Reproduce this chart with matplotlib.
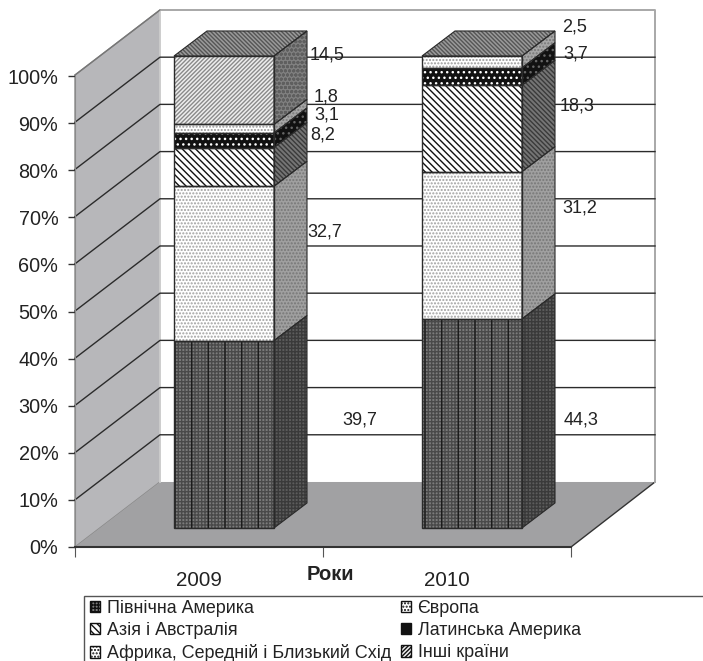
"""Stacked 3D-look bars (Excel style): regional shares 2009 / 2010."""
import matplotlib
matplotlib.use("Agg")
import matplotlib.pyplot as plt
from matplotlib.patches import Patch, Polygon, Rectangle

YEARS = ["2009", "2010"]
SERIES = ["Північна Америка", "Європа", "Азія і Австралія",
          "Латинська Америка", "Африка, Середній і Близький Схід", "Інші країни"]
VALUES_2009 = [39.7, 32.7, 8.2, 3.1, 1.8, 14.5]
VALUES_2010 = [44.3, 31.2, 18.3, 3.7, 2.5, 0.0]
LABELS_2009 = ["39,7", "32,7", "8,2", "3,1", "1,8", "14,5"]
LABELS_2010 = ["44,3", "31,2", "18,3", "3,7", "2,5", ""]
PERCENT_TICKS = list(range(0, 101, 10))

W, H = 703, 661
PX_PER_PCT = 4.72
BAR_BASE_PX = 528          # pixel row of the bars' front bottom edge
BAR_LEFT = [174, 422]
BAR_WIDTH = 100
BAR_DX, BAR_DV = 33, 5.3   # bar depth
WALL_X0, WALL_X1, FLOOR_X1 = 75, 160, 571
PLANE_FRONT_V = -4.03      # front 0% line, in bar units
PLANE_BACK_V = 9.75        # back 0% line, in bar units

# (face, hatch colour, hatch) for front and side of each series
FRONT = [("#7c7c7c", "#4a4a4a", "+++++"), ("#ffffff", "#a0a0a0", "....."),
         ("#ffffff", "#111111", "\\\\\\\\\\"), ("#111111", "#ffffff", "..."),
         ("#ffffff", "#999999", "....."), ("#eeeeee", "#8a8a8a", "////////")]
SIDE = [("#5c5c5c", "#3a3a3a", "+++++"), ("#a0a0a0", "#777777", "....."),
        ("#757575", "#3a3a3a", "\\\\\\\\\\\\\\"), ("#111111", "#666666", "..."),
        ("#a6a6a6", "#777777", "....."), ("#808080", "#5f5f5f", "oooo")]
TOP = ("#9a9a9a", "#555555", "\\\\\\\\\\\\\\\\")
NA_LINES = ("#1c1c1c", "|")  # extra vertical stripes on the first series

# label text positions in picture pixels (x left, y centre)
LABEL_POS_2009 = [(342, 420), (307, 232), (310, 135), (314, 115), (314, 97), (310, 55)]
LABEL_POS_2010 = [(564, 420), (562, 208), (560, 106), (563, 54), (562, 27)]

plt.rcParams["font.family"] = ["Liberation Sans", "DejaVu Sans"]
plt.rcParams["hatch.linewidth"] = 1.0
TEXT = "#222222"
EDGE = "#2a2a2a"


def draw_bar(ax, left, vals):
    right = left + BAR_WIDTH
    bottom = 0
    for i, v in enumerate(vals):
        if v == 0:
            continue
        face, hcol, hatch = FRONT[i]
        ax.bar(left, v, BAR_WIDTH, bottom=bottom, align="edge", color=face,
               edgecolor=hcol, hatch=hatch, linewidth=0, zorder=4)
        face_s, hcol_s, hatch_s = SIDE[i]
        side = [(right, bottom), (right + BAR_DX, bottom + BAR_DV),
                (right + BAR_DX, bottom + v + BAR_DV), (right, bottom + v)]
        ax.add_patch(Polygon(side, facecolor=face_s, edgecolor=hcol_s, hatch=hatch_s,
                             linewidth=0, zorder=4))
        if i == 0:
            ax.bar(left, v, BAR_WIDTH, bottom=bottom, align="edge", fill=False,
                   edgecolor=NA_LINES[0], hatch=NA_LINES[1], linewidth=0, zorder=4.5)
        ax.bar(left, v, BAR_WIDTH, bottom=bottom, align="edge", fill=False,
               edgecolor=EDGE, linewidth=1.0, zorder=5)
        ax.add_patch(Polygon(side, fill=False, edgecolor=EDGE, linewidth=0.8, zorder=5))
        bottom += v
    face, hcol, hatch = TOP
    top = [(left, bottom), (right, bottom), (right + BAR_DX, bottom + BAR_DV),
           (left + BAR_DX, bottom + BAR_DV)]
    ax.add_patch(Polygon(top, facecolor=face, edgecolor=hcol, hatch=hatch,
                         linewidth=0, zorder=4))
    ax.add_patch(Polygon(top, fill=False, edgecolor=EDGE, linewidth=0.8, zorder=5))


def main():
    fig = plt.figure(figsize=(W / 100, H / 100), dpi=100)

    # scene axes: x in pixels, y in percent of the bars
    ax = fig.add_axes([0, 0, 1, 1])
    ax.set_xlim(0, W)
    ax.set_ylim((BAR_BASE_PX - H) / PX_PER_PCT, BAR_BASE_PX / PX_PER_PCT)
    ax.axis("off")

    top_f, top_b = PLANE_FRONT_V + 100, PLANE_BACK_V + 100
    ax.add_patch(Polygon([(WALL_X0, PLANE_FRONT_V), (WALL_X1, PLANE_BACK_V),
                          (WALL_X1, top_b), (WALL_X0, top_f)],
                         facecolor="#b7b7ba", edgecolor="#8a8a8a", linewidth=1, zorder=1))
    ax.add_patch(Polygon([(WALL_X0, PLANE_FRONT_V), (FLOOR_X1, PLANE_FRONT_V),
                          (FLOOR_X1 + 84, PLANE_BACK_V), (WALL_X1, PLANE_BACK_V)],
                         facecolor="#a1a1a3", edgecolor="none", zorder=1))
    ax.plot([FLOOR_X1, FLOOR_X1 + 84], [PLANE_FRONT_V, PLANE_BACK_V], color="#333333",
            lw=1.0, zorder=2)
    ax.plot([WALL_X1, FLOOR_X1 + 84, FLOOR_X1 + 84], [top_b, top_b, PLANE_BACK_V],
            color="#a8a8a8", lw=1.4, zorder=2)
    ax.plot([WALL_X1, WALL_X1], [PLANE_BACK_V, top_b], color="#d5d5d5", lw=1.2, zorder=2)

    for k in PERCENT_TICKS[1:-1]:
        ax.plot([WALL_X0, WALL_X1, FLOOR_X1 + 84],
                [k + PLANE_FRONT_V, k + PLANE_BACK_V, k + PLANE_BACK_V],
                color="#2b2b2b", lw=1.0, zorder=2)
    ax.plot([WALL_X0, WALL_X1], [top_f, top_b], color="#777777", lw=1.0, zorder=2)

    for left, vals in zip(BAR_LEFT, [VALUES_2009, VALUES_2010]):
        draw_bar(ax, left, vals)

    # real value / category axis on the front edge of the floor
    axis = fig.add_axes([WALL_X0 / W, (H - 547) / H, (FLOOR_X1 - WALL_X0) / W, 471 / H])
    axis.patch.set_alpha(0)
    axis.set_xlim(0, 2)
    axis.set_ylim(0, 100)
    axis.set_yticks(PERCENT_TICKS, [f"{k}%" for k in PERCENT_TICKS])
    axis.set_xticks([0, 1, 2], ["", "", ""])
    axis.set_xticks([0.5, 1.5], YEARS, minor=True)
    axis.tick_params(axis="y", length=5, width=1, color="#333333", pad=7,
                     labelsize=14.3, labelcolor=TEXT)
    axis.tick_params(axis="x", which="major", length=7, width=0.8, color="#555555")
    axis.tick_params(axis="x", which="minor", length=0, pad=17, labelsize=14.8,
                     labelcolor=TEXT)
    for name in ["top", "right"]:
        axis.spines[name].set_visible(False)
    axis.spines["left"].set_color("#8a8a8a")
    axis.spines["bottom"].set_color("#333333")
    axis.spines["bottom"].set_linewidth(1.5)

    fig.text(330 / W, 1 - 574 / H, "Роки", ha="center", va="center", fontsize=14.5,
             fontweight="bold", color=TEXT)

    for labels, spots in [(LABELS_2009, LABEL_POS_2009), (LABELS_2010, LABEL_POS_2010)]:
        for lab, (x, y) in zip(labels, spots):
            fig.text(x / W, 1 - y / H, lab, ha="left", va="center", fontsize=13, color=TEXT)

    # legend box runs off the right and bottom of the picture
    ax.add_patch(Rectangle((84, (BAR_BASE_PX - 680) / PX_PER_PCT), 700, (680 - 596) / PX_PER_PCT,
                           facecolor="white", edgecolor="#555555", linewidth=1, zorder=1))
    handles = [Patch(facecolor=FRONT[i][0], edgecolor="#111111", hatch=FRONT[i][2])
               for i in range(len(SERIES))]
    order = [0, 2, 4, 1, 3, 5]
    fig.legend([handles[i] for i in order], [SERIES[i] for i in order], ncol=2,
               loc="upper left", bbox_to_anchor=(86 / W, 1 - 596 / H), frameon=False,
               fontsize=12.9, labelcolor=TEXT, handlelength=0.6, handleheight=0.6,
               handletextpad=0.35, columnspacing=0.55, labelspacing=0.3,
               borderpad=0.2, borderaxespad=0)

    fig.savefig("out.png", dpi=100)
    plt.close(fig)


if __name__ == "__main__":
    main()
